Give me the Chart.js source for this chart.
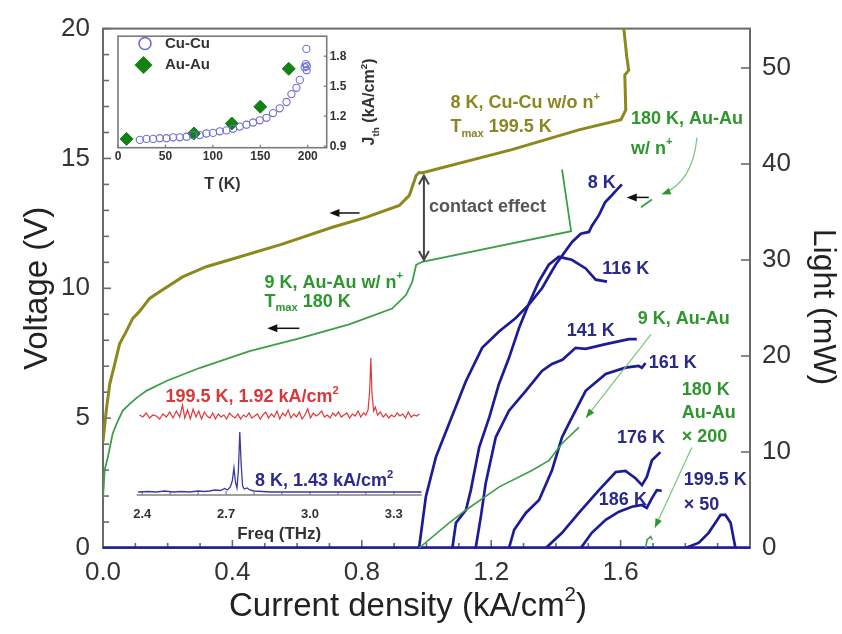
<!DOCTYPE html>
<html><head><meta charset="utf-8">
<script src="https://cdn.jsdelivr.net/npm/chart.js@4.4.1/dist/chart.umd.min.js"></script>
<style>
html,body{margin:0;padding:0;background:#fff;}
#wrap{position:relative;width:842px;height:634px;overflow:hidden;background:#fff;}
canvas{position:absolute;}
</style></head><body>
<div id="wrap">
<canvas id="main" width="842" height="634" style="left:0;top:0;width:842px;height:634px"></canvas>
<canvas id="ins1" width="290" height="168" style="left:104px;top:26px;width:290px;height:168px"></canvas>
<canvas id="ins2" width="320" height="200" style="left:120px;top:345px;width:320px;height:200px"></canvas>
</div>
<script>
// ---------------- DATA ----------------
// Main axes tick labels
const xTickValues = [0.0, 0.4, 0.8, 1.2, 1.6];
const xMinorValues = [0.1,0.2,0.3,0.5,0.6,0.7,0.9,1.0,1.1,1.3,1.4,1.5,1.7,1.8,1.9];
const vTickValues = [0, 5, 10, 15, 20];
const vMinorValues = [1,2,3,4,6,7,8,9,11,12,13,14,16,17,18,19];
const lTickValues = [0, 10, 20, 30, 40, 50];

// Voltage curves (left axis)
const jCuCu8K = [0.000,0.010,0.021,0.036,0.051,0.072,0.092,0.113,0.144,0.175,0.246,0.319,0.400,0.554,0.709,0.813,0.916,0.947,0.968,0.977,0.988,1.264,1.471,1.601,1.616,1.613,1.625,1.619,1.610,1.607];
const vCuCu8K = [4.1,5.29,6.32,7.07,7.85,8.34,8.84,9.11,9.61,9.87,10.44,10.83,11.13,11.70,12.35,12.73,13.19,13.58,14.34,14.46,14.45,15.34,16.10,16.49,16.87,18.21,18.39,18.92,20.0,20.6];
const jAuAu9K = [0.000,0.005,0.015,0.030,0.046,0.061,0.082,0.104,0.134,0.196,0.298,0.453,0.607,0.761,0.894,0.937,0.956,0.968,0.987,1.447,1.419];
const vAuAu9K = [1.9,3.0,3.50,4.41,4.90,5.29,5.54,5.78,6.05,6.43,6.93,7.58,8.07,8.61,9.22,9.75,10.25,10.90,11.02,12.20,14.58];
const jAuAu180K = [1.663,1.697];
const vAuAu180K = [13.12,13.42];

// Light curves (right axis)
const jAuAu9KL = [0.977,1.070,1.122,1.225,1.327,1.379,1.419,1.471];
const lAuAu9K  = [0,2.62,3.96,6.37,8.10,9.13,10.89,12.57];
const jAuAu180KL = [1.677,1.682,1.693,1.698];
const lAuAu180K  = [0,0.86,1.2,0.86];
const jBase = [0.0, 2.0];
const lBase = [0.05, 0.05];
const j8K = [0.977,0.998,1.029,1.070,1.122,1.172,1.225,1.276,1.317,1.357,1.399,1.450,1.477,1.502,1.512,1.533,1.552,1.573,1.588,1.604];
const l8K = [0,5.34,9.47,12.96,17.40,20.85,22.58,23.95,25.37,27.05,29.50,31.88,32.74,32.92,33.6,34.67,36.0,36.74,37.3,37.88];
const j116K = [1.080,1.091,1.122,1.137,1.163,1.194,1.224,1.255,1.286,1.317,1.347,1.378,1.409,1.449,1.492,1.523,1.558];
const l116K = [0,2.62,3.96,6.03,10.51,13.61,17.09,19.81,22.92,25.50,27.75,29.50,30.33,30.02,29.12,27.95,27.75];
const j141K = [1.152,1.168,1.183,1.214,1.255,1.307,1.357,1.388,1.420,1.461,1.492,1.554,1.626,1.650];
const l141K = [0,3.27,6.75,11.54,14.30,16.37,18.44,19.17,19.6,20.85,20.75,21.23,21.75,21.75];
const j161K = [1.255,1.271,1.307,1.348,1.388,1.419,1.440,1.492,1.554,1.615,1.656,1.666,1.677];
const l161K = [0,1.89,3.65,4.99,8.10,11.54,12.96,16.37,18.13,18.78,18.96,18.78,19.27];
const j176K = [1.369,1.419,1.471,1.533,1.585,1.615,1.646,1.666,1.681,1.697,1.723];
const l176K = [0,1.58,3.65,6.03,7.92,8.02,7.27,6.55,7.40,9.13,9.99];
const j186K = [1.477,1.511,1.554,1.595,1.635,1.666,1.681,1.697,1.712,1.727];
const l186K = [0,1.58,2.93,3.78,4.30,4.48,4.17,5.20,6.03,5.96];
const j199K = [1.801,1.842,1.872,1.893,1.909,1.924,1.940,1.955];
const l199K = [0,0.55,1.58,2.62,3.44,3.44,2.62,0];

// Inset 1: threshold current density vs temperature
const insTTicks = [0, 50, 100, 150, 200];
const insJTicks = [0.9, 1.2, 1.5, 1.8];
const tCuCu = [23.0,30.0,37.0,44.0,51.1,58.1,65.1,72.2,79.1,86.2,93.2,100.2,107.3,114.3,121.3,128.3,135.4,142.4,149.4,156.5,163.4,170.5,177.6,182.8,188.1,191.6,196.8,197.9,198.6,199.0,198.8];
const jthCuCu = [0.963,0.973,0.973,0.980,0.980,0.989,0.989,0.995,1.011,1.011,1.027,1.033,1.049,1.058,1.074,1.096,1.115,1.137,1.159,1.184,1.231,1.279,1.342,1.421,1.484,1.563,1.690,1.721,1.873,1.70,1.66];
const tAuAu = [9, 80, 120, 150, 180];
const jthAuAu = [0.973, 1.027, 1.127, 1.295, 1.674];

// Inset 2: spectra
const freqTicks = [2.4, 2.7, 3.0, 3.3];
const freqMinor = [2.5,2.6,2.8,2.9,3.1,3.2];
const fRed = [2.390,2.402,2.414,2.426,2.438,2.450,2.462,2.474,2.486,2.498,2.510,2.522,2.534,2.544,2.552,2.562,2.572,2.582,2.592,2.602,2.612,2.622,2.632,2.642,2.652,2.662,2.672,2.682,2.692,2.702,2.712,2.722,2.732,2.742,2.752,2.762,2.772,2.782,2.792,2.802,2.812,2.822,2.832,2.842,2.852,2.862,2.872,2.882,2.892,2.902,2.912,2.922,2.932,2.942,2.952,2.962,2.972,2.982,2.992,3.002,3.012,3.022,3.032,3.042,3.052,3.062,3.072,3.082,3.092,3.102,3.112,3.122,3.132,3.142,3.152,3.162,3.172,3.182,3.192,3.200,3.208,3.214,3.218,3.222,3.228,3.234,3.242,3.252,3.262,3.272,3.282,3.292,3.302,3.312,3.322,3.332,3.342,3.352,3.362,3.372,3.382,3.392];
const iRed = [0.80,0.78,0.82,0.77,0.80,0.79,0.76,0.81,0.78,0.83,0.77,0.84,0.78,0.90,0.77,0.85,0.76,0.86,0.78,0.84,0.76,0.83,0.79,0.77,0.82,0.76,0.81,0.78,0.80,0.76,0.82,0.79,0.77,0.81,0.76,0.80,0.78,0.82,0.77,0.79,0.81,0.76,0.80,0.83,0.77,0.81,0.78,0.84,0.76,0.82,0.79,0.85,0.77,0.81,0.78,0.83,0.76,0.80,0.86,0.77,0.82,0.79,0.81,0.84,0.78,0.80,0.77,0.82,0.79,0.83,0.78,0.80,0.82,0.77,0.81,0.79,0.84,0.78,0.82,0.80,0.85,1.05,1.37,1.02,0.84,0.88,0.80,0.83,0.78,0.81,0.77,0.80,0.78,0.82,0.79,0.81,0.77,0.83,0.78,0.80,0.79,0.81];
const fBlue = [2.385,2.42,2.45,2.48,2.51,2.54,2.57,2.60,2.62,2.64,2.66,2.68,2.695,2.705,2.715,2.722,2.728,2.734,2.739,2.744,2.749,2.754,2.759,2.765,2.775,2.785,2.80,2.83,2.86,2.90,2.95,3.00,3.10,3.20,3.30,3.40];
const iBlue = [0.03,0.035,0.03,0.04,0.03,0.035,0.03,0.04,0.035,0.04,0.05,0.045,0.065,0.05,0.08,0.14,0.27,0.12,0.07,0.25,0.63,0.30,0.09,0.06,0.07,0.05,0.04,0.035,0.03,0.03,0.03,0.03,0.03,0.03,0.03,0.03];

// ---------------- STYLE ----------------
const FONT = "'Liberation Sans', Arial, sans-serif";
Chart.defaults.font.family = FONT;
const OLIVE = '#8c881c', OLIVE_T = '#8a8620';
const GREEN = '#3c9e4a', GREEN_T = '#2e962e', GREEN_ARROW = '#7cc47c';
const BLUE = '#1c1c96', BLUE_T = '#2a2a88';
const RED = '#e0383a';
const FRAME = '#6a6a6a';

const xy = (xs, ys) => xs.map((x, i) => ({x: x, y: ys[i]}));
function line(ctx, x1, y1, x2, y2) { ctx.beginPath(); ctx.moveTo(x1, y1); ctx.lineTo(x2, y2); ctx.stroke(); }

function drawRich(ctx, parts, x, y, size, color, align, weight) {
  const wt = weight === undefined ? 'bold ' : weight;
  const segs = parts.map(p => {
    const k = p[1] || '';
    const s = k ? size * 0.62 : size;
    ctx.font = wt + s + 'px ' + FONT;
    return {t: p[0], k: k, s: s, w: ctx.measureText(p[0]).width};
  });
  const total = segs.reduce((a, b) => a + b.w, 0);
  let cx = align === 'center' ? x - total / 2 : (align === 'right' ? x - total : x);
  ctx.fillStyle = color; ctx.textBaseline = 'middle'; ctx.textAlign = 'left';
  segs.forEach(sg => {
    ctx.font = wt + sg.s + 'px ' + FONT;
    const dy = sg.k === 'sup' ? -size * 0.36 : (sg.k === 'sub' ? size * 0.38 : 0);
    ctx.fillText(sg.t, cx, y + dy);
    cx += sg.w;
  });
}

function arrowHead(ctx, x1, y1, x2, y2, len, half, color) {
  const a = Math.atan2(y2 - y1, x2 - x1);
  ctx.fillStyle = color;
  ctx.beginPath();
  ctx.moveTo(x2, y2);
  ctx.lineTo(x2 - len * Math.cos(a) + half * Math.sin(a), y2 - len * Math.sin(a) - half * Math.cos(a));
  ctx.lineTo(x2 - len * Math.cos(a) - half * Math.sin(a), y2 - len * Math.sin(a) + half * Math.cos(a));
  ctx.closePath(); ctx.fill();
}
function chevron(ctx, x, y, dir, w, h) {
  ctx.beginPath(); ctx.moveTo(x - w, y - dir * h); ctx.lineTo(x, y); ctx.lineTo(x + w, y - dir * h); ctx.stroke();
}

// annotation texts (positions in data coordinates J, V)
const notes = [
  {p: [['8 K, Cu-Cu w/o n'], ['+', 'sup']], x: 1.074, y: 17.13, c: OLIVE_T, a: 'left'},
  {p: [['T'], ['max', 'sub'], [' 199.5 K']], x: 1.074, y: 16.21, c: OLIVE_T, a: 'left'},
  {p: [['180 K, Au-Au']], x: 1.632, y: 16.50, c: GREEN_T, a: 'left'},
  {p: [['w/ n'], ['+', 'sup']], x: 1.632, y: 15.37, c: GREEN_T, a: 'left'},
  {p: [['contact effect']], x: 1.008, y: 13.12, c: '#555', a: 'left'},
  {p: [['8 K']], x: 1.542, y: 14.04, c: BLUE_T, a: 'center'},
  {p: [['116 K']], x: 1.616, y: 10.75, c: BLUE_T, a: 'center'},
  {p: [['141 K']], x: 1.508, y: 8.34, c: BLUE_T, a: 'center'},
  {p: [['9 K, Au-Au']], x: 1.795, y: 8.80, c: GREEN_T, a: 'center'},
  {p: [['161 K']], x: 1.761, y: 7.12, c: BLUE_T, a: 'center'},
  {p: [['180 K']], x: 1.789, y: 6.09, c: GREEN_T, a: 'left'},
  {p: [['Au-Au']], x: 1.789, y: 5.21, c: GREEN_T, a: 'left'},
  {p: [['\u00d7 200']], x: 1.789, y: 4.29, c: GREEN_T, a: 'left'},
  {p: [['176 K']], x: 1.663, y: 4.25, c: BLUE_T, a: 'center'},
  {p: [['186 K']], x: 1.607, y: 1.85, c: BLUE_T, a: 'center'},
  {p: [['199.5 K']], x: 1.795, y: 2.61, c: BLUE_T, a: 'left'},
  {p: [['\u00d7 50']], x: 1.795, y: 1.65, c: BLUE_T, a: 'left'},
  {p: [['9 K, Au-Au w/ n'], ['+', 'sup']], x: 0.499, y: 10.21, c: GREEN_T, a: 'left'},
  {p: [['T'], ['max', 'sub'], [' 180 K']], x: 0.499, y: 9.49, c: GREEN_T, a: 'left'}
];
const blackArrows = [
  {f: [0.793, 12.90], t: [0.700, 12.90]},
  {f: [0.607, 8.46], t: [0.508, 8.46]},
  {f: [1.687, 13.50], t: [1.619, 13.50]}
];
const greenArrows = [
  {f: [1.694, 8.23], t: [1.493, 5.02]},
  {f: [1.820, 3.87], t: [1.706, 0.78]}
];

const mainFrame = {
  id: 'mainFrame',
  beforeDatasetsDraw(chart) {
    const {ctx, chartArea: {left, right, top, bottom}, scales: {x, y, y2}} = chart;
    ctx.save();
    ctx.strokeStyle = FRAME; ctx.lineWidth = 2;
    ctx.strokeRect(left, top, right - left, bottom - top);
    ctx.lineWidth = 1.6;
    xTickValues.forEach(v => { const p = x.getPixelForValue(v); line(ctx, p, bottom, p, bottom - 8); });
    xMinorValues.forEach(v => { const p = x.getPixelForValue(v); line(ctx, p, bottom, p, bottom - 5); });
    vTickValues.forEach(v => { const p = y.getPixelForValue(v); line(ctx, left, p, left + 8, p); });
    vMinorValues.forEach(v => { const p = y.getPixelForValue(v); line(ctx, left, p, left + 6, p); });
    lTickValues.forEach(v => { const p = y2.getPixelForValue(v); line(ctx, right, p, right - 9, p); });
    ctx.restore();
  },
  afterDraw(chart) {
    const {ctx, scales: {x, y}} = chart;
    ctx.save();
    // axis titles drawn off-centre as in the figure
    drawRich(ctx, [['Current density (kA/cm'], ['2', 'sup'], [')']], 408, 607, 33, '#222', 'center', '');
    ctx.save();
    ctx.translate(823, 307); ctx.rotate(Math.PI / 2);
    drawRich(ctx, [['Light (mW)']], 0, 0, 32, '#222', 'center', '');
    ctx.restore();

    notes.forEach(n => drawRich(ctx, n.p, x.getPixelForValue(n.x), y.getPixelForValue(n.y), 18, n.c, n.a));
    // contact effect double arrow
    const dx = x.getPixelForValue(0.992), dy1 = y.getPixelForValue(14.34), dy2 = y.getPixelForValue(11.09);
    ctx.strokeStyle = '#444'; ctx.lineWidth = 2;
    line(ctx, dx, dy1 + 1, dx, dy2 - 1);
    chevron(ctx, dx, dy1, -1, 5, 9);
    chevron(ctx, dx, dy2, 1, 5, 9);
    // black axis arrows
    ctx.strokeStyle = '#111'; ctx.lineWidth = 1.5;
    blackArrows.forEach(a => {
      const x1 = x.getPixelForValue(a.f[0]), y1 = y.getPixelForValue(a.f[1]);
      const x2 = x.getPixelForValue(a.t[0]), y2p = y.getPixelForValue(a.t[1]);
      line(ctx, x1, y1, x2 + 6, y2p);
      arrowHead(ctx, x1, y1, x2, y2p, 10, 4, '#111');
    });
    // green pointer arrows
    ctx.strokeStyle = GREEN_ARROW; ctx.lineWidth = 1.2;
    greenArrows.forEach(a => {
      const x1 = x.getPixelForValue(a.f[0]), y1 = y.getPixelForValue(a.f[1]);
      const x2 = x.getPixelForValue(a.t[0]), y2p = y.getPixelForValue(a.t[1]);
      line(ctx, x1, y1, x2, y2p);
      arrowHead(ctx, x1, y1, x2, y2p, 9, 3.5, GREEN_T);
    });
    // curved arrow for 180 K Au-Au w/ n+
    const cx1 = x.getPixelForValue(1.836), cy1 = y.getPixelForValue(15.80);
    const ccx = x.getPixelForValue(1.823), ccy = y.getPixelForValue(14.07);
    const cx2 = x.getPixelForValue(1.727), cy2 = y.getPixelForValue(13.62);
    ctx.beginPath(); ctx.moveTo(cx1, cy1); ctx.quadraticCurveTo(ccx, ccy, cx2, cy2); ctx.stroke();
    arrowHead(ctx, ccx, ccy, cx2, cy2, 9, 3.5, GREEN_T);
    ctx.restore();
  }
};

const lineDs = (label, xs, ys, axis, color, width, extra) => Object.assign({
  label: label, data: xy(xs, ys), yAxisID: axis, borderColor: color, backgroundColor: color,
  borderWidth: width, showLine: true, pointRadius: 0, tension: 0, fill: false
}, extra || {});

new Chart(document.getElementById('main'), {
  type: 'scatter',
  data: {datasets: [
    lineDs('9 K, Au-Au light', jAuAu9KL, lAuAu9K, 'y2', GREEN, 1.6),
    lineDs('180 K, Au-Au x200 light', jAuAu180KL, lAuAu180K, 'y2', GREEN, 1.6),
    lineDs('8 K, Cu-Cu w/o n+', jCuCu8K, vCuCu8K, 'y', OLIVE, 3),
    lineDs('9 K, Au-Au w/ n+', jAuAu9K, vAuAu9K, 'y', GREEN, 1.8),
    lineDs('180 K, Au-Au w/ n+', jAuAu180K, vAuAu180K, 'y', GREEN, 1.8),
    lineDs('baseline', jBase, lBase, 'y2', BLUE, 2.5, {clip: false}),
    lineDs('8 K', j8K, l8K, 'y2', BLUE, 2.7),
    lineDs('116 K', j116K, l116K, 'y2', BLUE, 2.7),
    lineDs('141 K', j141K, l141K, 'y2', BLUE, 2.7),
    lineDs('161 K', j161K, l161K, 'y2', BLUE, 2.7),
    lineDs('176 K', j176K, l176K, 'y2', BLUE, 2.7),
    lineDs('186 K', j186K, l186K, 'y2', BLUE, 2.7),
    lineDs('199.5 K x50', j199K, l199K, 'y2', BLUE, 2.7)
  ]},
  options: {
    responsive: false, animation: false, devicePixelRatio: 1,
    layout: {padding: {top: 25, left: 0, right: 0, bottom: 0}, autoPadding: false},
    plugins: {legend: {display: false}, tooltip: {enabled: false}},
    scales: {
      x: {type: 'linear', position: 'bottom', min: 0, max: 2.0,
        grid: {display: false, drawTicks: false}, border: {display: false},
        afterBuildTicks: s => { s.ticks = xTickValues.map(v => ({value: v})); },
        afterFit: s => { s.height = 86; },
        ticks: {padding: 9, color: '#333', font: {size: 26}, autoSkip: false, maxRotation: 0, callback: v => Number(v).toFixed(1)},
        title: {display: false}},
      y: {type: 'linear', position: 'left', min: 0, max: 20,
        grid: {display: false, drawTicks: false}, border: {display: false},
        afterBuildTicks: s => { s.ticks = vTickValues.map(v => ({value: v})); },
        afterFit: s => { s.width = 103; },
        ticks: {padding: 13, color: '#333', font: {size: 26}},
        title: {display: true, text: 'Voltage (V)', color: '#222', font: {size: 33}, padding: {top: 18, bottom: 0}}},
      y2: {type: 'linear', position: 'right', min: 0, max: 54.1,
        grid: {display: false, drawTicks: false}, border: {display: false},
        afterBuildTicks: s => { s.ticks = lTickValues.map(v => ({value: v})); },
        afterFit: s => { s.width = 92; },
        ticks: {padding: 12, color: '#333', font: {size: 26}},
        title: {display: false}}
    }
  },
  plugins: [mainFrame]
});

// ---------------- INSET 1 ----------------
const ins1Deco = {
  id: 'ins1Deco',
  beforeDatasetsDraw(chart) {
    const {ctx, chartArea: {left, right, top, bottom}, scales: {x, y}} = chart;
    ctx.save();
    ctx.fillStyle = '#fff'; ctx.fillRect(left, top, right - left, bottom - top);
    ctx.strokeStyle = '#7a7a7a'; ctx.lineWidth = 1.6;
    ctx.strokeRect(left, top, right - left, bottom - top);
    ctx.lineWidth = 1.2;
    insTTicks.forEach(v => { const p = x.getPixelForValue(v); line(ctx, p, bottom, p, bottom - 3); });
    insJTicks.forEach(v => { const p = y.getPixelForValue(v); line(ctx, right, p, right - 3, p); });
    ctx.restore();
  },
  afterDraw(chart) {
    const {ctx, chartArea: {top, bottom}} = chart;
    ctx.save();
    // legend
    ctx.strokeStyle = '#6464d2'; ctx.lineWidth = 1.5;
    ctx.beginPath(); ctx.arc(41, 17.5, 6, 0, Math.PI * 2); ctx.stroke();
    ctx.fillStyle = '#128212';
    ctx.beginPath(); ctx.moveTo(39.5, 30); ctx.lineTo(48.5, 39); ctx.lineTo(39.5, 48); ctx.lineTo(30.5, 39); ctx.closePath(); ctx.fill();
    drawRich(ctx, [['Cu-Cu']], 61, 17.5, 15, '#333', 'left');
    drawRich(ctx, [['Au-Au']], 61, 39, 15, '#333', 'left');
    // rotated y title
    ctx.translate(266, (top + bottom) / 2 + 10);
    ctx.rotate(-Math.PI / 2);
    drawRich(ctx, [['J'], ['th', 'sub'], [' (kA/cm'], ['2', 'sup'], [')']], 0, 0, 16, '#333', 'center');
    ctx.restore();
  }
};

new Chart(document.getElementById('ins1'), {
  type: 'scatter',
  data: {datasets: [
    {label: 'Cu-Cu', data: xy(tCuCu, jthCuCu), pointStyle: 'circle', pointRadius: 3.6, borderColor: '#6e6ed6', backgroundColor: 'rgba(255,255,255,0)', borderWidth: 1.1, showLine: false},
    {label: 'Au-Au', data: xy(tAuAu, jthAuAu), pointStyle: 'rectRot', pointRadius: 6.5, borderColor: '#128212', backgroundColor: '#128212', borderWidth: 1, showLine: false}
  ]},
  options: {
    responsive: false, animation: false, devicePixelRatio: 1,
    layout: {padding: {left: 14, top: 4, right: 0, bottom: 0}, autoPadding: false},
    plugins: {legend: {display: false}, tooltip: {enabled: false}},
    scales: {
      x: {type: 'linear', min: 0, max: 220, grid: {display: false, drawTicks: false}, border: {display: false},
        afterBuildTicks: s => { s.ticks = insTTicks.map(v => ({value: v})); },
        afterFit: s => { s.height = 46.3; },
        ticks: {padding: 2, color: '#333', font: {size: 12, weight: 'bold'}, maxRotation: 0, autoSkip: false},
        title: {display: true, text: 'T (K)', color: '#333', font: {size: 16, weight: 'bold'}, padding: {top: 10, bottom: 0}}},
      y: {type: 'linear', position: 'right', min: 0.885, max: 2.0, grid: {display: false, drawTicks: false}, border: {display: false},
        afterBuildTicks: s => { s.ticks = insJTicks.map(v => ({value: v})); },
        afterFit: s => { s.width = 67.3; },
        ticks: {padding: 3, color: '#333', font: {size: 12, weight: 'bold'}, callback: v => Number(v).toFixed(1)}}
    }
  },
  plugins: [ins1Deco]
});

// ---------------- INSET 2 ----------------
const ins2Deco = {
  id: 'ins2Deco',
  beforeDatasetsDraw(chart) {
    const {ctx, chartArea: {left, right, bottom}, scales: {x}} = chart;
    ctx.save();
    ctx.strokeStyle = '#808080'; ctx.lineWidth = 1.6;
    line(ctx, left, bottom, right, bottom);
    ctx.lineWidth = 1.2;
    freqTicks.forEach(v => { const p = x.getPixelForValue(v); line(ctx, p, bottom, p, bottom - 4); });
    freqMinor.forEach(v => { const p = x.getPixelForValue(v); line(ctx, p, bottom, p, bottom - 3); });
    ctx.restore();
  },
  afterDraw(chart) {
    const {ctx, scales: {x, y}} = chart;
    ctx.save();
    drawRich(ctx, [['199.5 K, 1.92 kA/cm'], ['2', 'sup']], x.getPixelForValue(2.483), y.getPixelForValue(0.98), 18, '#d8383a', 'left');
    drawRich(ctx, [['8 K, 1.43 kA/cm'], ['2', 'sup']], x.getPixelForValue(2.803), y.getPixelForValue(0.14), 18, '#2a2a90', 'left');
    ctx.restore();
  }
};

new Chart(document.getElementById('ins2'), {
  type: 'scatter',
  data: {datasets: [
    {label: '199.5 K', data: xy(fRed, iRed), borderColor: RED, backgroundColor: RED, borderWidth: 1.2, showLine: true, pointRadius: 0, tension: 0},
    {label: '8 K', data: xy(fBlue, iBlue), borderColor: '#3a3aa0', backgroundColor: '#3a3aa0', borderWidth: 1.3, showLine: true, pointRadius: 0, tension: 0}
  ]},
  options: {
    responsive: false, animation: false, devicePixelRatio: 1,
    layout: {padding: {left: 16.7, right: 18.3, top: 10, bottom: 0}, autoPadding: false},
    plugins: {legend: {display: false}, tooltip: {enabled: false}},
    scales: {
      x: {type: 'linear', min: 2.38, max: 3.40, grid: {display: false, drawTicks: false}, border: {display: false},
        afterBuildTicks: s => { s.ticks = freqTicks.map(v => ({value: v})); },
        afterFit: s => { s.height = 50; },
        ticks: {padding: 12, color: '#333', font: {size: 13, weight: 'bold'}, maxRotation: 0, autoSkip: false, callback: v => Number(v).toFixed(1)},
        title: {display: true, text: 'Freq (THz)', color: '#333', font: {size: 17, weight: 'bold'}, padding: {top: 0, bottom: 0}}},
      y: {type: 'linear', display: false, min: 0, max: 1.4}
    }
  },
  plugins: [ins2Deco]
});
</script>
</body></html>
